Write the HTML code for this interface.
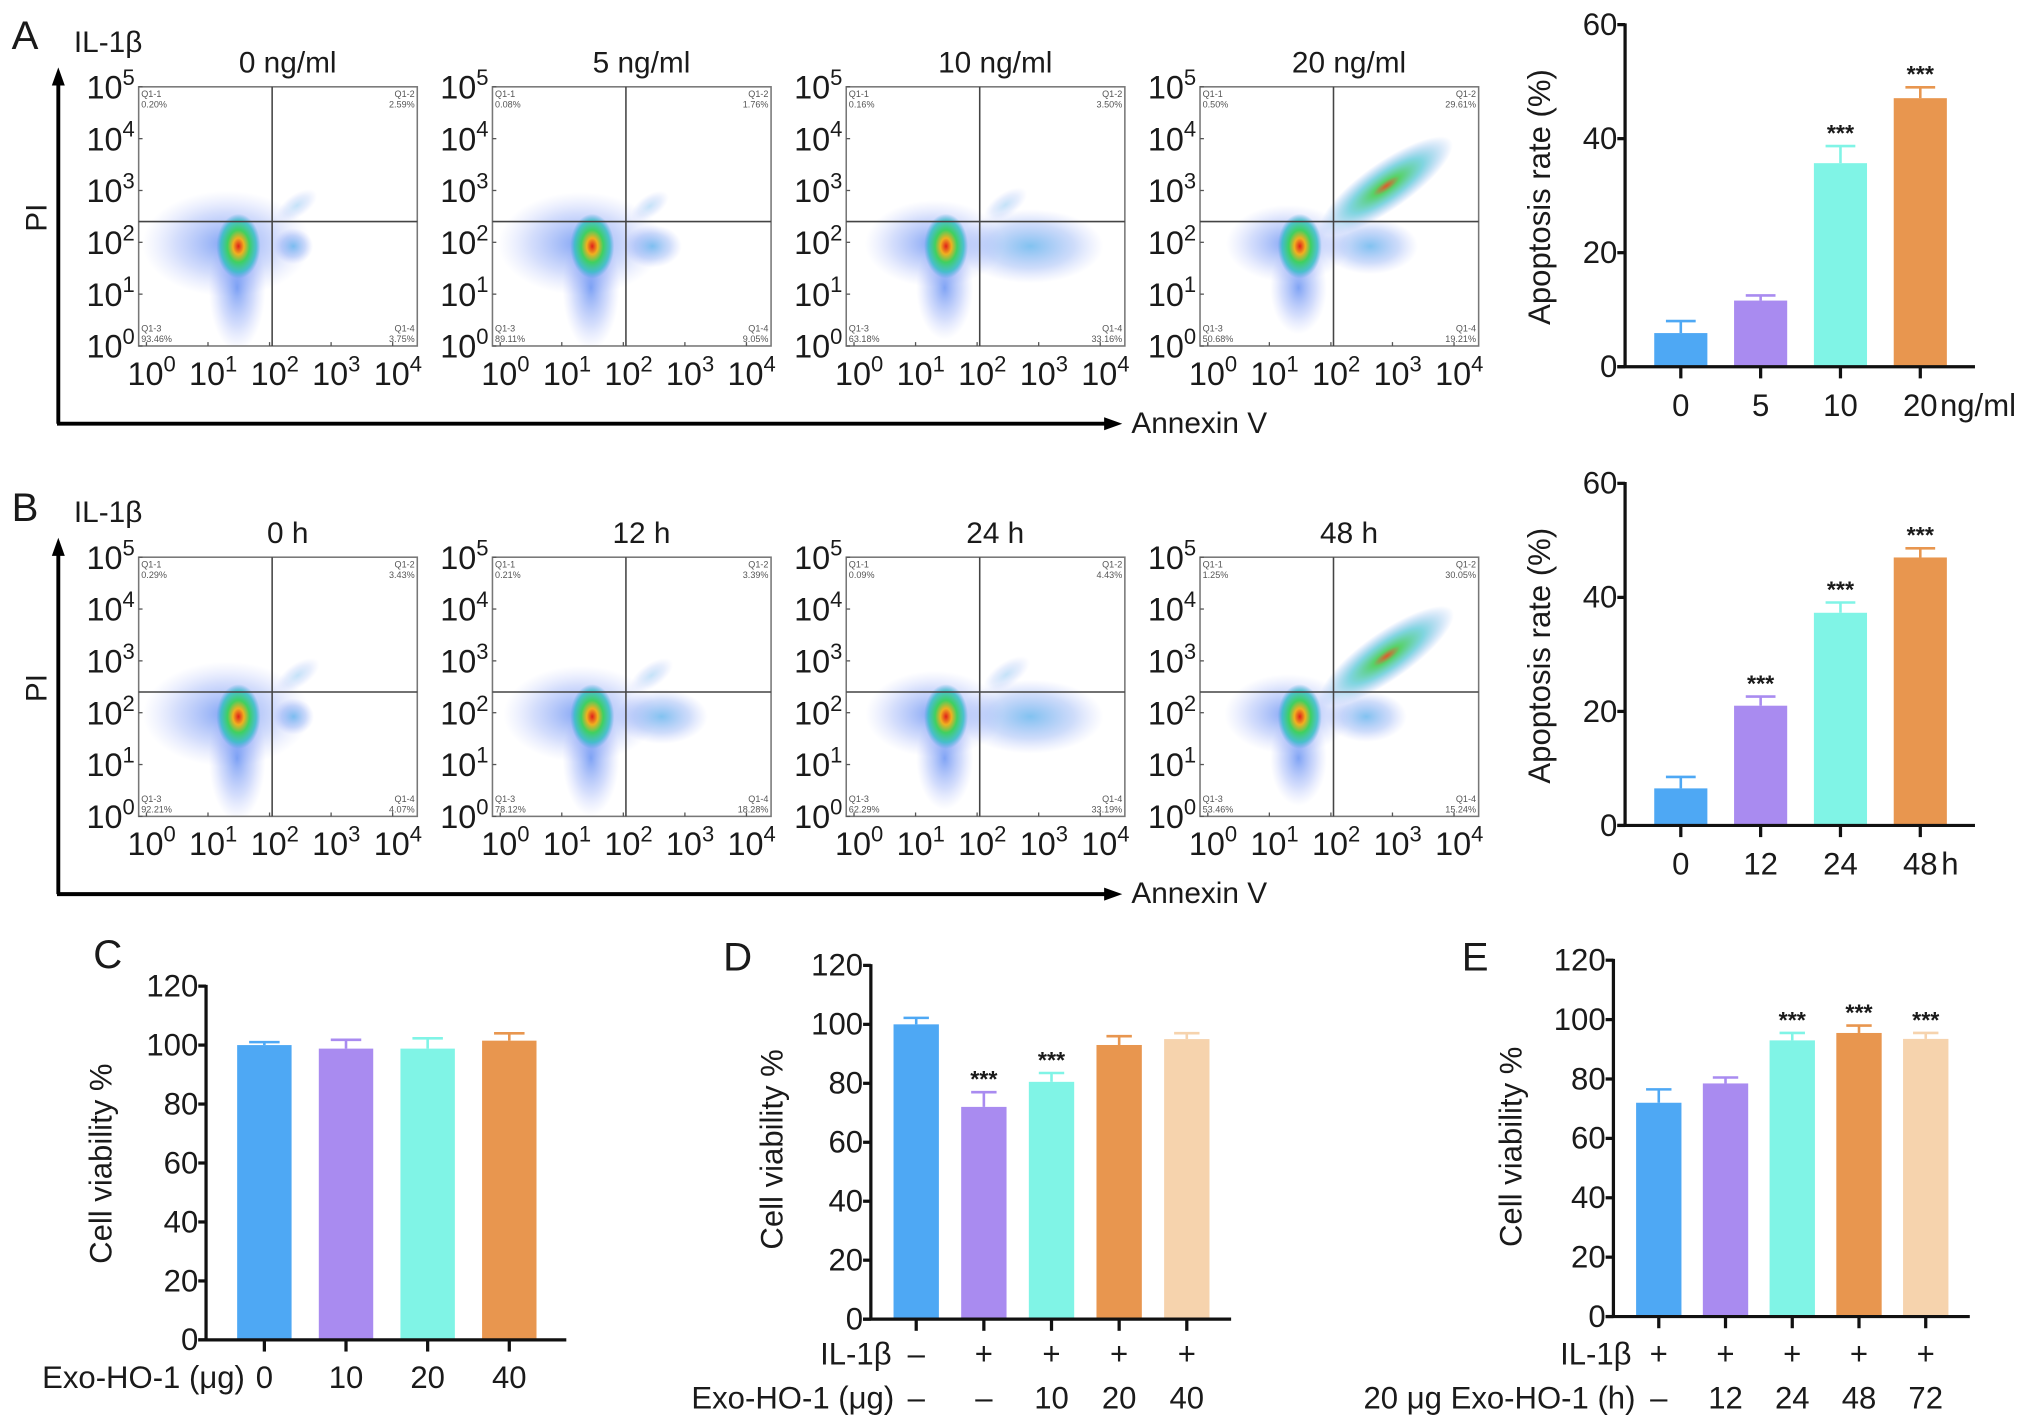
<!DOCTYPE html>
<html><head><meta charset="utf-8">
<style>
html,body{margin:0;padding:0;background:#fff;}
svg{display:block;font-family:"Liberation Sans",Arial,sans-serif;}
</style></head>
<body>
<svg id="fig" xmlns="http://www.w3.org/2000/svg" width="2032" height="1428" viewBox="0 0 1568 1102" preserveAspectRatio="none">
<defs>
<radialGradient id="gHaze"><stop offset="0" stop-color="#4a7df0" stop-opacity="0.7"/><stop offset="0.6" stop-color="#6f8ff5" stop-opacity="0.3"/><stop offset="1" stop-color="#9aa8f8" stop-opacity="0"/></radialGradient>
<radialGradient id="gCore"><stop offset="0" stop-color="#e0201a"/><stop offset="0.25" stop-color="#f0b020"/><stop offset="0.5" stop-color="#40d060"/><stop offset="0.8" stop-color="#30c0c0" stop-opacity="0.8"/><stop offset="1" stop-color="#40a0e0" stop-opacity="0"/></radialGradient>
<radialGradient id="gBlue"><stop offset="0" stop-color="#3aa0e8" stop-opacity="0.75"/><stop offset="0.6" stop-color="#5a8af0" stop-opacity="0.35"/><stop offset="1" stop-color="#8a9af8" stop-opacity="0"/></radialGradient>
<radialGradient id="gGreen"><stop offset="0" stop-color="#e05020"/><stop offset="0.2" stop-color="#50d060"/><stop offset="0.55" stop-color="#40c0d0" stop-opacity="0.7"/><stop offset="1" stop-color="#6090f0" stop-opacity="0"/></radialGradient>
</defs>
</svg>
<script>
// ---------- DATA ----------
var flowTitlesA = ['0 ng/ml','5 ng/ml','10 ng/ml','20 ng/ml'];
var flowQ1A = [0.20,0.08,0.16,0.50];
var flowQ2A = [2.59,1.76,3.50,29.61];
var flowQ3A = [93.46,89.11,63.18,50.68];
var flowQ4A = [3.75,9.05,33.16,19.21];
var flowTitlesB = ['0 h','12 h','24 h','48 h'];
var flowQ1B = [0.29,0.21,0.09,1.25];
var flowQ2B = [3.43,3.39,4.43,30.05];
var flowQ3B = [92.21,78.12,62.29,53.46];
var flowQ4B = [4.07,18.28,33.19,15.24];

var aCats = ['0','5','10','20'];
var aVals = [5.9,11.6,35.7,47.1];
var aErr = [2.1,0.9,3.0,1.9];
var aSig = ['','','***','***'];
var aTicks = [0,20,40,60];

var bCats = ['0','12','24','48'];
var bVals = [6.5,21.0,37.3,47.0];
var bErr = [2.0,1.6,1.8,1.6];
var bSig = ['','***','***','***'];
var bTicks = [0,20,40,60];

var cCats = ['0','10','20','40'];
var cVals = [100,98.8,98.8,101.5];
var cErr = [1.0,3.0,3.5,2.5];
var cTicks = [0,20,40,60,80,100,120];

var dIL = ['\u2013','+','+','+','+'];
var dExo = ['\u2013','\u2013','10','20','40'];
var dVals = [100,72,80.5,93,95];
var dErr = [2.2,5,3,3,2];
var dSig = ['','***','***','',''];

var eIL = ['+','+','+','+','+'];
var eExo = ['\u2013','12','24','48','72'];
var eVals = [72,78.5,93,95.5,93.5];
var eErr = [4.5,2,2.5,2.5,2];
var eSig = ['','','***','***','***'];
var vTicks = [0,20,40,60,80,100,120];

var colors = ['#4ea8f4','#a98bf0','#80f4e6','#e8964f','#f6d3ad'];

// ---------- HELPERS ----------
var NS='http://www.w3.org/2000/svg';
var svg=document.getElementById('fig');
function mk(tag,attrs,parent){var e=document.createElementNS(NS,tag);for(var k in attrs)e.setAttribute(k,attrs[k]);(parent||svg).appendChild(e);return e;}
function txt(s,x,y,size,anchor,parent,extra){var t=mk('text',{x:x,y:y,'font-size':size,'text-anchor':anchor||'middle',fill:'#1a1a1a'},parent);if(extra)for(var k in extra)t.setAttribute(k,extra[k]);t.textContent=s;return t;}
function pow(x,y,e,size,parent,anchor){var g=mk('text',{x:x,y:y,'font-size':size,'text-anchor':anchor||'middle',fill:'#1a1a1a'},parent);var a=mk('tspan',{},g);a.textContent='10';var b=mk('tspan',{'font-size':size*0.68,dy:-size*0.42},g);b.textContent=String(e);return g;}

// ---------- PANEL LABELS ----------
var l;
l=txt('A',9,38,31,'start');
l=txt('B',9,402,31,'start');
l=txt('C',72,747,31,'start');
l=txt('D',558,749,31,'start');
l=txt('E',1128,749,31,'start');

// ---------- FLOW PANELS ----------
function flowRow(oy,titles,q1,q2,q3,q4,rowName){
  var g=mk('g',{});
  
  
  var t=txt('IL-1\u03b2',57,oy+40,23,'start',g);
  
  
  mk('line',{x1:45,y1:oy+327,x2:45,y2:oy+62,stroke:'#000','stroke-width':3},g);
  mk('polygon',{points:(45)+','+(oy+52)+' '+(40)+','+(oy+66)+' '+(50)+','+(oy+66),fill:'#000'},g);
  mk('line',{x1:44,y1:oy+327,x2:855,y2:oy+327,stroke:'#000','stroke-width':3},g);
  mk('polygon',{points:'866,'+(oy+327)+' 852,'+(oy+322)+' 852,'+(oy+332),fill:'#000'},g);
  t=txt('PI',36,oy+168,23,'middle',g,{transform:'rotate(-90 36 '+(oy+168)+')'});
  
  
  t=txt('Annexin V',873,oy+334,23,'start',g);
  
  
  for(var i=0;i<4;i++){
    var x0=107+i*273, y0=oy+67, w=215, h=200, qx=x0+103, qy=oy+171;
    var p=mk('g',{},g);
    
    
    t=txt(titles[i],x0+115,oy+56,23,'middle',p);
    
    
    var cp=mk('clipPath',{id:'cp'+rowName+i},p);
    mk('rect',{x:x0,y:y0,width:w,height:h},cp);
    var d=mk('g',{'clip-path':'url(#cp'+rowName+i+')'},p);
    
    
    var s3=Math.sqrt(q3[i]/90);
    mk('ellipse',{cx:x0+68,cy:oy+188,rx:64*s3,ry:40*s3,fill:'url(#gHaze)'},d);
    mk('ellipse',{cx:x0+76,cy:oy+222,rx:22,ry:48*s3,fill:'url(#gHaze)'},d);
    var r4=10+q4[i]*1.4;
    mk('ellipse',{cx:qx+8+r4*0.55,cy:oy+190,rx:r4,ry:12+q4[i]*0.5,fill:'url(#gBlue)',opacity:0.85},d);
    var r2=14+q2[i]*1.6;
    var cx2=qx+10+r2*0.5, cy2=qy-6-r2*0.35;
    mk('ellipse',{cx:cx2,cy:cy2,rx:r2,ry:8+q2[i]*0.35,fill:(q2[i]>10?'url(#gGreen)':'url(#gBlue)'),opacity:(q2[i]>10?0.95:0.4),transform:'rotate(-35 '+cx2+' '+cy2+')'},d);
    mk('ellipse',{cx:x0+77,cy:oy+190,rx:17,ry:25,fill:'url(#gCore)'},d);
    mk('rect',{x:x0,y:y0,width:w,height:h,fill:'none',stroke:'#777','stroke-width':1.2},p);
    mk('line',{x1:qx,y1:y0,x2:qx,y2:y0+h,stroke:'#444','stroke-width':1.2},p);
    mk('line',{x1:x0,y1:qy,x2:x0+w,y2:qy,stroke:'#444','stroke-width':1.2},p);
    var fs=7;
    txt('Q1-1',x0+2,y0+8,fs,'start',p,{fill:'#555'});
    txt(q1[i].toFixed(2)+'%',x0+2,y0+16,fs,'start',p,{fill:'#555'});
    txt('Q1-2',x0+w-2,y0+8,fs,'end',p,{fill:'#555'});
    txt(q2[i].toFixed(2)+'%',x0+w-2,y0+16,fs,'end',p,{fill:'#555'});
    txt('Q1-3',x0+2,y0+h-11,fs,'start',p,{fill:'#555'});
    txt(q3[i].toFixed(2)+'%',x0+2,y0+h-3,fs,'start',p,{fill:'#555'});
    txt('Q1-4',x0+w-2,y0+h-11,fs,'end',p,{fill:'#555'});
    txt(q4[i].toFixed(2)+'%',x0+w-2,y0+h-3,fs,'end',p,{fill:'#555'});
    for(var k=0;k<=5;k++){
      var yy=y0+h-k*(h/5);
      var lab=pow(x0-3,yy+9,k,25,p,'end');
      
      
      mk('line',{x1:x0,y1:yy,x2:x0+3,y2:yy,stroke:'#555'},p);
    }
    for(var k=0;k<=4;k++){
      var xx=x0+6+k*47.5;
      var lab2=pow(xx+4,oy+297,k,25,p,'middle');
      
      
      mk('line',{x1:xx,y1:y0+h,x2:xx,y2:y0+h-3,stroke:'#555'},p);
    }
  }
}
flowRow(0,flowTitlesA,flowQ1A,flowQ2A,flowQ3A,flowQ4A,'flow-row-a');
flowRow(363,flowTitlesB,flowQ1B,flowQ2B,flowQ3B,flowQ4B,'flow-row-b');

// ---------- BAR CHARTS ----------
var FS=24;
function barChart(cfg,vals,errs,sigs,ticks,name){
  var g=mk('g',{});
  
  
  var max=ticks[ticks.length-1];
  function Y(v){return cfg.y0-(v/max)*(cfg.y0-cfg.yTop);}
  function X(i){return cfg.x1+i*cfg.step;}
  for(var i=0;i<vals.length;i++){
    var top=Y(vals[i]), et=Y(vals[i]+errs[i]);
    var c=colors[i];
    mk('line',{x1:X(i),y1:top,x2:X(i),y2:et,stroke:c,'stroke-width':2},g);
    mk('line',{x1:X(i)-cfg.bw*0.28,y1:et,x2:X(i)+cfg.bw*0.28,y2:et,stroke:c,'stroke-width':2},g);
    var r=mk('rect',{x:X(i)-cfg.bw/2,y:top,width:cfg.bw,height:cfg.y0-top,fill:c},g);
    
    
    if(sigs&&sigs[i]){
      var s=txt(sigs[i],X(i),et-4,18,'middle',g,{'font-weight':'bold'});
      
      
    }
    mk('line',{x1:X(i),y1:cfg.y0,x2:X(i),y2:cfg.y0+9,stroke:'#111','stroke-width':2.5},g);
  }
  mk('line',{x1:cfg.ax,y1:cfg.yTop-1,x2:cfg.ax,y2:cfg.y0+1,stroke:'#111','stroke-width':2.5},g);
  mk('line',{x1:cfg.ax-6,y1:cfg.y0,x2:cfg.xEnd,y2:cfg.y0,stroke:'#111','stroke-width':2.5},g);
  for(var k=0;k<ticks.length;k++){
    var yy=Y(ticks[k]);
    mk('line',{x1:cfg.ax-6,y1:yy,x2:cfg.ax,y2:yy,stroke:'#111','stroke-width':2.5},g);
    var tl=txt(String(ticks[k]),cfg.ax-6,yy+8,FS,'end',g);
    
    
  }
  var yt=txt(cfg.title,cfg.tx,cfg.ty,FS,'middle',g,{transform:'rotate(-90 '+cfg.tx+' '+cfg.ty+')'});
  
  
  return {g:g,X:X};
}
function catLabels(ch,cats,y,name){
  for(var i=0;i<cats.length;i++){
    var t=txt(cats[i],ch.X(i),y,FS,'middle',ch.g);
    
    
  }
}

var chA=barChart({ax:1254,x1:1297,step:61.6,bw:41,y0:283,yTop:19,xEnd:1524,title:'Apoptosis rate (%)',tx:1196,ty:152},aVals,aErr,aSig,aTicks,'bar-chart-a');
catLabels(chA,aCats,321,'x-category-label');
l=txt('ng/ml',1497,321,FS,'start',chA.g);

var chB=barChart({ax:1254,x1:1297,step:61.6,bw:41,y0:637,yTop:373,xEnd:1524,title:'Apoptosis rate (%)',tx:1196,ty:506},bVals,bErr,bSig,bTicks,'bar-chart-b');
catLabels(chB,bCats,675,'x-category-label');
l=txt('h',1498,675,FS,'start',chB.g);

var chC=barChart({ax:159,x1:204,step:63,bw:42,y0:1034,yTop:761,xEnd:437,title:'Cell viability %',tx:86,ty:898},cVals,cErr,null,cTicks,'bar-chart-c');
catLabels(chC,cCats,1071,'x-category-label');
l=txt('Exo-HO-1 (\u03bcg)',189,1071,FS,'end',chC.g);

var chD=barChart({ax:672,x1:707,step:52.2,bw:35,y0:1018,yTop:745,xEnd:950,title:'Cell viability %',tx:604,ty:887},dVals,dErr,dSig,vTicks,'bar-chart-d');
catLabels(chD,dIL,1053,'il1b-row-value');
catLabels(chD,dExo,1087,'exo-row-value');
l=txt('IL-1\u03b2',688,1053,FS,'end',chD.g);
l=txt('Exo-HO-1 (\u03bcg)',690,1087,FS,'end',chD.g);

var chE=barChart({ax:1245,x1:1280,step:51.5,bw:35,y0:1016,yTop:741,xEnd:1520,title:'Cell viability %',tx:1174,ty:885},eVals,eErr,eSig,vTicks,'bar-chart-e');
catLabels(chE,eIL,1053,'il1b-row-value');
catLabels(chE,eExo,1087,'exo-row-value');
l=txt('IL-1\u03b2',1259,1053,FS,'end',chE.g);
l=txt('20 \u03bcg Exo-HO-1 (h)',1262,1087,FS,'end',chE.g);
</script>
</body></html>
